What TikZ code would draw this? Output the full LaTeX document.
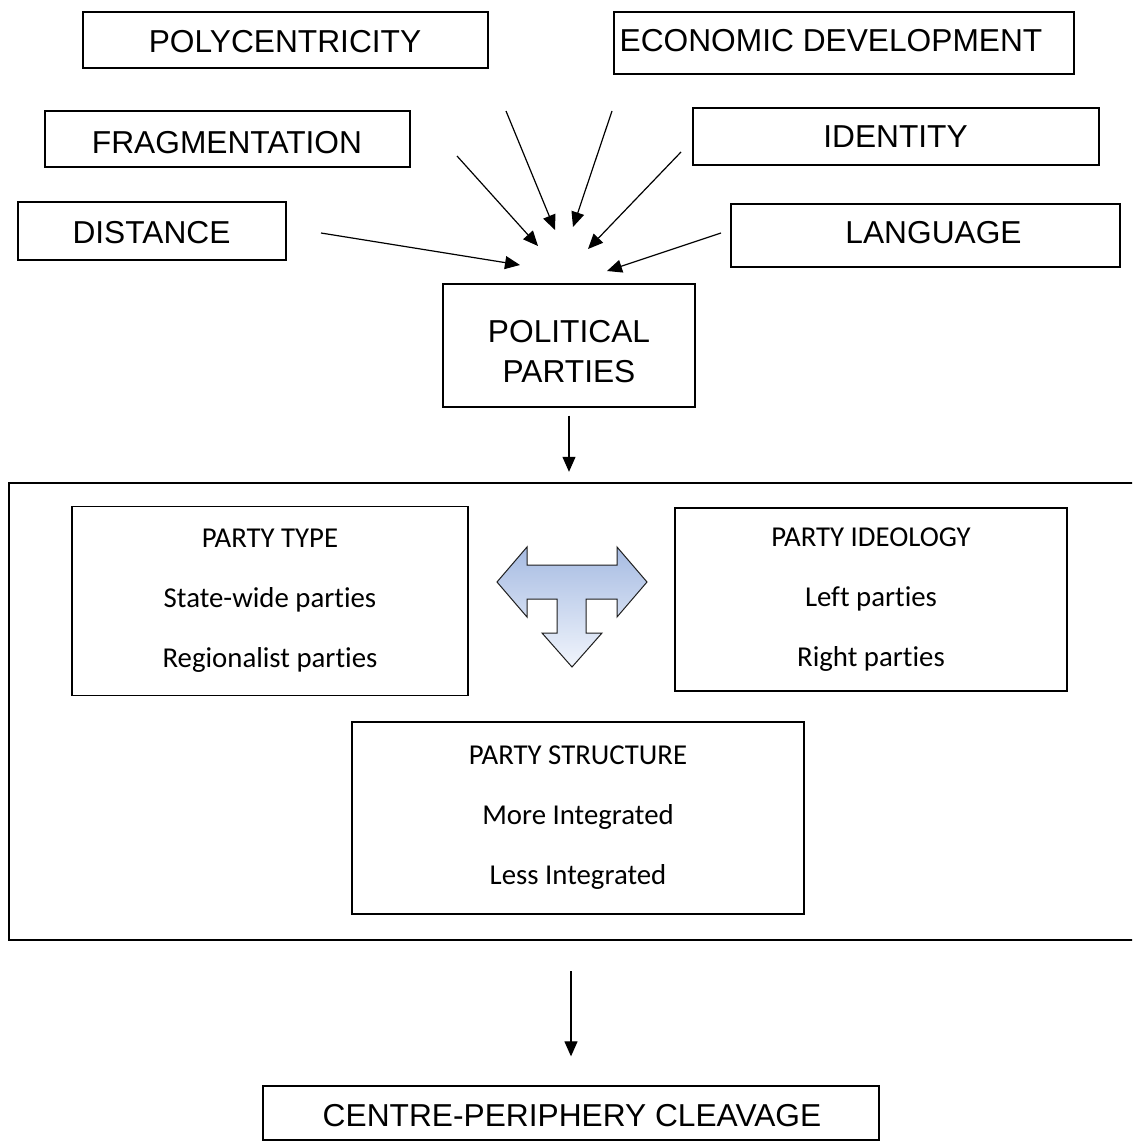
\documentclass[tikz,border=0pt]{standalone}
\usepackage{fontspec}
\setmainfont{Liberation Sans}
\newfontfamily\carlitofont[Ligatures=NoCommon]{Carlito}
\usetikzlibrary{arrows.meta}

\definecolor{tshade top}{RGB}{166,187,226}
\definecolor{tshade bot}{RGB}{241,245,252}
\definecolor{toutline}{RGB}{30,30,30}

\tikzset{
  factor/.style={draw, line width=1.3pt, inner sep=0pt,
    font=\fontsize{31.7}{36}\selectfont},
  groupbox/.style={draw, line width=1.3pt, inner sep=0pt, align=center,
    font=\carlitofont\fontsize{28.8}{60}\selectfont},
  flow/.style={line width=1.2pt, -{Triangle[length=15pt,width=13pt]}},
  caption/.style={inner sep=0pt, align=center, font=\fontsize{31.7}{40}\selectfont},
}

\begin{document}
\begin{tikzpicture}[x=1pt, y=-1pt]
\clip (0,0) rectangle (1132,1142);
\fill[white] (0,0) rectangle (1132,1142);

% influencing factors
\node[factor, minimum width=405pt, minimum height=56pt] (poly)  at (285.5,40) {};
\node[caption] (polyT) at (285,41.5) {POLYCENTRICITY};
\node[factor, minimum width=460pt, minimum height=62pt] (econ)  at (844,43) {};
\node[caption] (econT) at (831,41) {ECONOMIC DEVELOPMENT};
\node[factor, minimum width=365pt, minimum height=56pt] (frag)  at (227.5,139) {};
\node[caption] (fragT) at (227,142.5) {FRAGMENTATION};
\node[factor, minimum width=406pt, minimum height=57pt] (ident) at (896,136.5) {};
\node[caption] (identT) at (895.5,137) {IDENTITY};
\node[factor, minimum width=268pt, minimum height=58pt] (dist)  at (152,231) {};
\node[caption] (distT) at (151.5,232.5) {DISTANCE};
\node[factor, minimum width=389pt, minimum height=63pt] (lang)  at (925.5,235.5) {};
\node[caption] (langT) at (933.5,233) {LANGUAGE};

% political parties
\node[factor, minimum width=252pt, minimum height=123pt] (pp) at (569,345.5) {};
\node[caption] (ppT) at (569,351.5) {POLITICAL\\PARTIES};

% converging arrows
\coordinate (polyS)  at (506,111);  \coordinate (polyE)  at (555,230);
\coordinate (econS)  at (612,111);  \coordinate (econE)  at (573,227);
\coordinate (fragS)  at (457,156);  \coordinate (fragE)  at (538,246);
\coordinate (identS) at (681,152);  \coordinate (identE) at (588,249);
\coordinate (distS)  at (321,233);  \coordinate (distE)  at (520,265);
\coordinate (langS)  at (721,233);  \coordinate (langE)  at (607,271);
\foreach \k in {poly,econ,frag,ident,dist,lang}
  \draw[flow] (\k S) -- (\k E);

% party characteristics
\node[draw, line width=2.4pt, minimum width=1140pt, minimum height=457pt, inner sep=0pt]
  (outer) at (579,711.5) {};
\draw[flow] ([yshift=-8pt]pp.south) -- ([yshift=10pt]outer.north -| pp.south);

\node[groupbox, minimum width=396pt, minimum height=189pt] (ptype) at (270,601)
  {PARTY TYPE\\State-wide parties\\Regionalist parties};
\node[groupbox, minimum width=392pt, minimum height=183pt] (pideo) at (871,599.5)
  {PARTY IDEOLOGY\\Left parties\\Right parties};
\node[groupbox, minimum width=452pt, minimum height=192pt] (pstruct) at (578,818)
  {PARTY STRUCTURE\\More Integrated\\Less Integrated};

% three-way arrow between the party dimensions
\coordinate (tarrow) at (572,582);
\draw[line width=1pt, draw=toutline, top color=tshade top, bottom color=tshade bot,
      line join=miter]
  (497,582) -- (527,547) -- (527,565) -- (617,565) -- (617,547) -- (647,582)
  -- (617,617) -- (617,599) -- (586,599) -- (586,633) -- (602,633) -- (572,667)
  -- (542,633) -- (557,633) -- (557,599) -- (527,599) -- (527,617) -- cycle;

% outcome
\node[factor, minimum width=616pt, minimum height=54pt] (centre) at (571,1113) {};
\node[caption] (centreT) at (572,1116) {CENTRE-PERIPHERY CLEAVAGE};
\draw[flow] ([yshift=-30pt]outer.south -| centre.north) -- ([yshift=29pt]centre.north);
\end{tikzpicture}
\end{document}
